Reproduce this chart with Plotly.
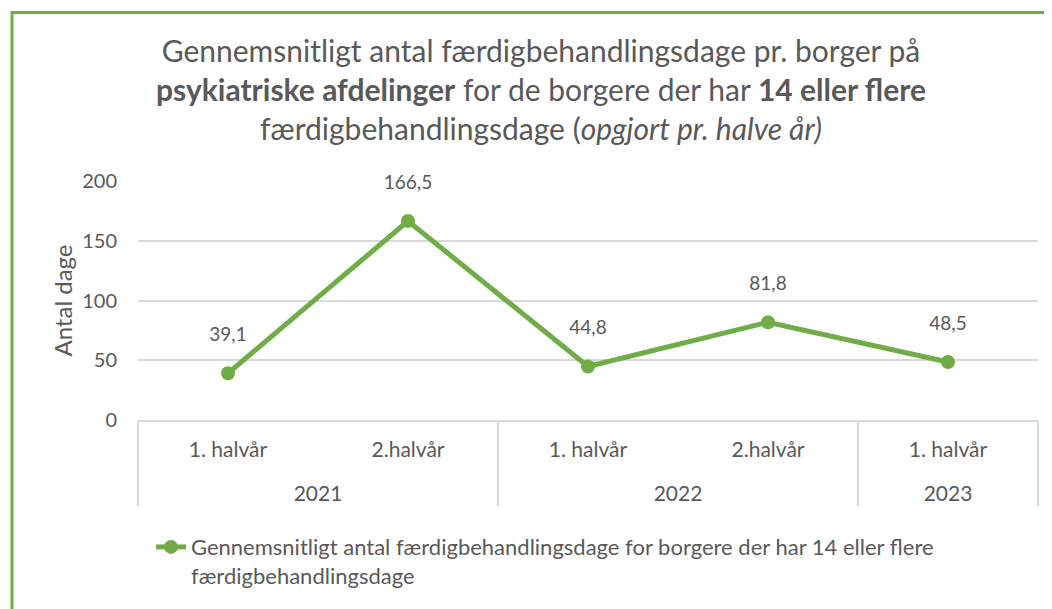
import plotly.graph_objects as go

years = ["2021", "2021", "2022", "2022", "2023"] # outer category level
halves = ["1. halvår", "2.halvår", "1. halvår", "2.halvår", "1. halvår"] # inner category level
days = [39.1, 166.5, 44.8, 81.8, 48.5] # average days per citizen

green = "#70AD47"
grey = "#595959"
light = "#D9D9D9"

# an empty second line under each inner label pushes the year row down
x = [years, [h + "<br> " for h in halves]]

# the page body adds 8px, so the figure is 8px smaller and positions are shifted by 8
fig = go.Figure()
fig.add_trace( # the single series
    go.Scatter(
        x = x,
        y = days,
        mode = "lines+markers",
        line = dict(color=green, width=5),
        marker = dict(color=green, size=14),
        name = "Gennemsnitligt antal færdigbehandlingsdage for borgere der har 14 eller flere<br>færdigbehandlingsdage",
        showlegend = True,
        hoverinfo = "skip"
    )
)
fig.add_trace( # data labels, lifted a bit higher by a big invisible marker
    go.Scatter(
        x = x,
        y = days,
        mode = "markers+text",
        marker = dict(color="rgba(0,0,0,0)", size=42),
        text = [str(d).replace(".", ",") for d in days],
        textposition = "top center",
        textfont = dict(size=19, color=grey),
        cliponaxis = False,
        showlegend = False,
        hoverinfo = "skip"
    )
)

# green frame round the whole chart
fig.add_shape(
    type = "rect", xref = "paper", yref = "paper",
    x0 = (4 - 130) / 900, x1 = (1070 - 130) / 900,
    y0 = (414 - 640) / 241, y1 = (414 - 3) / 241,
    line = dict(color=green, width=3), layer = "below"
)
# outer dividers of the category box
for edge in [0, 1]:
    fig.add_shape(
        type = "line", xref = "paper", yref = "paper",
        x0 = edge, x1 = edge, y0 = 0, y1 = -83 / 241,
        line = dict(color=light, width=1.5)
    )

fig.update_layout(
    title = dict(
        text = "Gennemsnitligt antal færdigbehandlingsdage pr. borger på<br>"
               "<b>psykiatriske afdelinger</b> for de borgere der har <b>14 eller flere</b><br>"
               "færdigbehandlingsdage (<i>opgjort pr. halve år)</i>",
        x = 533 / 1044, xanchor = "center", xref = "container",
        y = 1 - 54 / 601, yanchor = "top", yref = "container",
        font = dict(size=30, color=grey)
    ),
    font = dict(family="Lato, Calibri, sans-serif", color=grey),
    width = 1044, height = 601,
    margin = dict(l=130, r=14, t=173, b=187),
    paper_bgcolor = "white", plot_bgcolor = "white",
    xaxis = dict(
        type = "multicategory",
        range = [-0.5, 4.5],
        showgrid = False,
        showline = True, linecolor=light, linewidth=1.5,
        showdividers = True, dividercolor=light, dividerwidth=1.5,
        tickfont = dict(size=21, color=grey),
        ticklabelstandoff = 10,
        ticks = ""
    ),
    yaxis = dict(
        range = [0, 200],
        tickvals = [0, 50, 100, 150, 200],
        showgrid = True, gridcolor=light, gridwidth=1.5,
        zeroline = False,
        tickfont = dict(size=20, color=grey),
        ticklabelstandoff = 20,
        title = dict(text="Antal dage", font=dict(size=24, color=grey), standoff=2)
    ),
    legend = dict(
        orientation = "h",
        valign = "top",
        x = 13 / 900, xanchor = "left", xref = "paper",
        y = (414 - 521) / 241, yanchor = "top",
        font = dict(size=22, color=grey)
    )
)

fig.write_html("out.html")
